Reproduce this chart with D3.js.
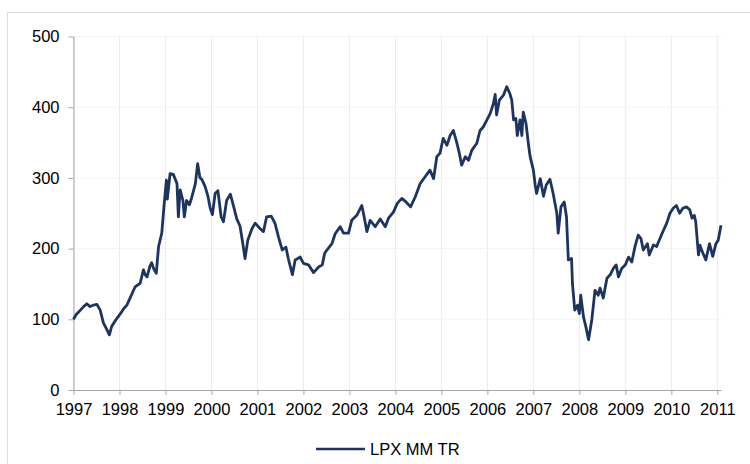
<!DOCTYPE html>
<html>
<head>
<meta charset="utf-8">
<script src="https://cdn.jsdelivr.net/npm/d3@7"></script>
<style>
  body { margin: 0; background: #fff; }
  svg { display: block; font-family: "Liberation Sans", Arial, sans-serif; }
</style>
</head>
<body>
<svg width="750" height="464"></svg>
<script>
// decimal year of each reading
const dates = [
  1997.00, 1997.05, 1997.15, 1997.22, 1997.29, 1997.36, 1997.43, 1997.51, 1997.58, 1997.65,
  1997.72, 1997.78, 1997.83, 1997.94, 1998.02, 1998.09, 1998.16, 1998.23, 1998.34, 1998.45,
  1998.52, 1998.56, 1998.60, 1998.66, 1998.70, 1998.74, 1998.80, 1998.85, 1998.92, 1998.97,
  1999.02, 1999.04, 1999.10, 1999.17, 1999.25, 1999.28, 1999.32, 1999.38, 1999.41, 1999.46,
  1999.52, 1999.57, 1999.65, 1999.70, 1999.75, 1999.79, 1999.86, 1999.92, 1999.97, 2000.02,
  2000.08, 2000.14, 2000.21, 2000.26, 2000.33, 2000.41, 2000.48, 2000.55, 2000.62, 2000.67,
  2000.73, 2000.79, 2000.88, 2000.95, 2001.06, 2001.13, 2001.20, 2001.30, 2001.38, 2001.46,
  2001.54, 2001.62, 2001.67, 2001.76, 2001.82, 2001.93, 2002.00, 2002.11, 2002.22, 2002.33,
  2002.41, 2002.46, 2002.51, 2002.62, 2002.69, 2002.80, 2002.87, 2002.98, 2003.05, 2003.16,
  2003.27, 2003.32, 2003.38, 2003.45, 2003.56, 2003.67, 2003.78, 2003.85, 2003.96, 2004.04,
  2004.14, 2004.23, 2004.33, 2004.43, 2004.54, 2004.65, 2004.75, 2004.83, 2004.90, 2004.97,
  2005.04, 2005.12, 2005.19, 2005.26, 2005.33, 2005.39, 2005.44, 2005.52, 2005.59, 2005.66,
  2005.77, 2005.84, 2005.91, 2005.99, 2006.06, 2006.13, 2006.17, 2006.20, 2006.26, 2006.35,
  2006.42, 2006.49, 2006.53, 2006.57, 2006.62, 2006.65, 2006.71, 2006.75, 2006.78, 2006.84,
  2006.89, 2006.93, 2007.00, 2007.04, 2007.07, 2007.15, 2007.22, 2007.28, 2007.36, 2007.43,
  2007.51, 2007.54, 2007.60, 2007.67, 2007.72, 2007.76, 2007.83, 2007.85, 2007.90, 2007.96,
  2008.00, 2008.03, 2008.09, 2008.14, 2008.20, 2008.27, 2008.34, 2008.41, 2008.45, 2008.52,
  2008.60, 2008.67, 2008.74, 2008.80, 2008.85, 2008.92, 2009.00, 2009.07, 2009.14, 2009.21,
  2009.28, 2009.34, 2009.39, 2009.48, 2009.52, 2009.61, 2009.68, 2009.75, 2009.83, 2009.90,
  2009.97, 2010.04, 2010.11, 2010.18, 2010.25, 2010.33, 2010.40, 2010.45, 2010.50, 2010.53,
  2010.59, 2010.62, 2010.67, 2010.75, 2010.83, 2010.90, 2010.97, 2011.02, 2011.08
];

const lpxValues = [
  100, 106, 113, 118, 122, 118, 120, 121, 113, 95,
  86, 78, 90, 101, 108, 115, 120, 130, 146, 151,
  170, 163, 160, 175, 180, 172, 165, 203, 222, 262,
  297, 270, 306, 305, 292, 245, 283, 268, 245, 268,
  262, 272, 292, 320, 300, 298, 288, 275, 258, 248,
  278, 282, 245, 238, 268, 277, 260, 242, 232, 212,
  186, 212, 228, 236, 228, 224, 245, 246, 236, 216,
  198, 202, 186, 163, 184, 188, 179, 177, 166, 174,
  177, 193, 198, 207, 221, 231, 222, 222, 240, 247,
  261, 245, 224, 240, 231, 242, 231, 243, 252, 264,
  271, 266, 259, 273, 292, 302, 311, 299, 330, 335,
  356, 346, 360, 367, 351, 335, 318, 330, 325, 339,
  349, 367, 372, 382, 391, 405, 418, 389, 410, 417,
  429, 419, 410, 382, 384, 360, 382, 360, 393, 377,
  349, 330, 311, 290, 278, 299, 274, 290, 298, 278,
  250, 222, 259, 266, 245, 184, 186, 150, 113, 120,
  108, 134, 103, 90, 71, 99, 141, 134, 144, 130,
  158, 163, 172, 177, 160, 172, 177, 188, 181, 203,
  219, 214, 198, 207, 191, 205, 203, 214, 226, 236,
  250, 257, 261, 250, 257, 259, 255, 243, 247, 238,
  191, 205, 196, 184, 207, 189, 207, 212, 233
];

const yearTicks = d3.range(1997, 2012);
const valueTicks = [0, 100, 200, 300, 400, 500];
const seriesName = "LPX MM TR";

const svg = d3.select("svg");

// outer frame
svg.append("path")
   .attr("d", "M7.5,464 V12.5 H750")
   .attr("fill", "none")
   .attr("stroke", "#dcdcdc");

const x = d3.scaleLinear().domain([1997, 2011.08]).range([73.5, 721]);
const y = d3.scaleLinear().domain([0, 500]).range([390, 36.5]);

// grid
svg.append("g")
   .selectAll("line")
   .data(yearTicks)
   .enter()
   .append("line")
   .attr("x1", d => x(d)).attr("x2", d => x(d))
   .attr("y1", y(500)).attr("y2", y(0))
   .attr("stroke", "#ececec");

svg.append("g")
   .selectAll("line")
   .data(valueTicks.slice(1))
   .enter()
   .append("line")
   .attr("x1", x(1997)).attr("x2", x.range()[1])
   .attr("y1", d => y(d)).attr("y2", d => y(d))
   .attr("stroke", "#f3f3f3");

// axes
const xAxis = svg.append("g")
   .attr("transform", `translate(0, ${y(0)})`)
   .call(d3.axisBottom(x).tickValues(yearTicks).tickFormat(d3.format("d"))
           .tickSize(5).tickSizeOuter(0).tickPadding(8));

const yAxis = svg.append("g")
   .attr("transform", `translate(${x(1997)}, 0)`)
   .call(d3.axisLeft(y).tickValues(valueTicks)
           .tickSize(5).tickSizeOuter(0).tickPadding(9));

[xAxis, yAxis].forEach(a => {
  a.select(".domain").attr("stroke", "#a6a6a6");
  a.selectAll(".tick line").attr("stroke", "#a6a6a6");
  a.selectAll(".tick text")
   .attr("fill", "#000")
   .style("font-size", "16.5px")
   .style("font-family", '"Liberation Sans", Arial, sans-serif');
});

// series
const points = dates.map((d, i) => [d, lpxValues[i]]);

const line = d3.line()
   .x(d => x(d[0]))
   .y(d => y(d[1]));

svg.append("path")
   .datum(points)
   .attr("d", line)
   .attr("fill", "none")
   .attr("stroke", "#1d3461")
   .attr("stroke-width", 2.8)
   .attr("stroke-linejoin", "round");

// legend
const legend = svg.append("g").attr("transform", "translate(316, 449)");

legend.append("line")
   .attr("x1", 0).attr("x2", 49)
   .attr("stroke", "#1d3461")
   .attr("stroke-width", 2.3);

legend.append("text")
   .attr("x", 54).attr("y", 6)
   .style("font-size", "16.5px")
   .text(seriesName);
</script>
</body>
</html>
